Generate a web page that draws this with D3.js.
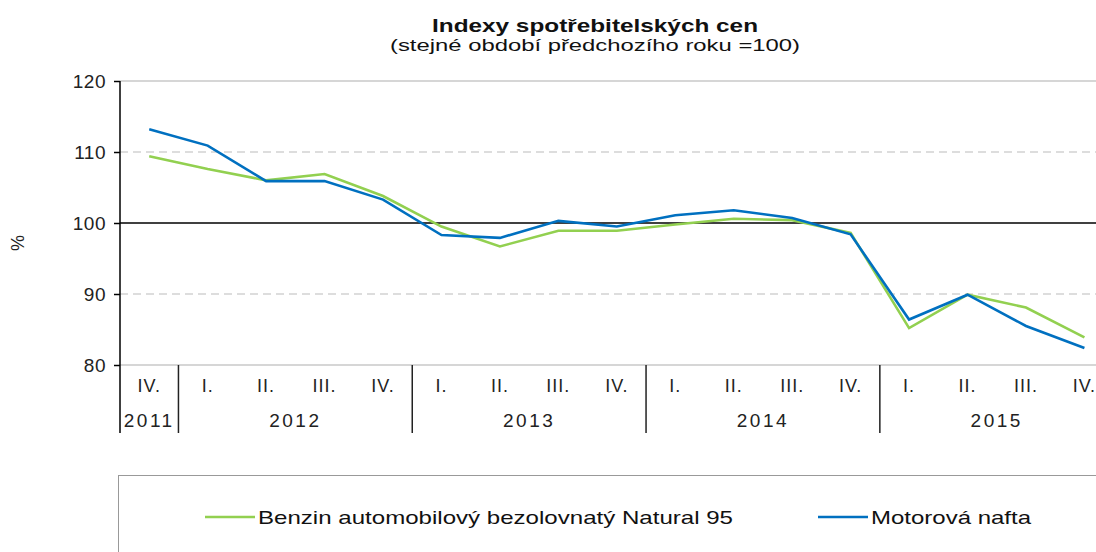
<!DOCTYPE html>
<html>
<head>
<meta charset="utf-8">
<script src="https://cdn.jsdelivr.net/npm/d3@7"></script>
<style>
  body { margin: 0; background: #fff; }
  svg { display: block; font-family: "Liberation Sans", Arial, sans-serif; }
</style>
</head>
<body>
<div id="chart"></div>
<script>
// quarters from 2011 Q4 to 2015 Q4
const quarters = ['IV.', 'I.', 'II.', 'III.', 'IV.', 'I.', 'II.', 'III.', 'IV.',
  'I.', 'II.', 'III.', 'IV.', 'I.', 'II.', 'III.', 'IV.'];
const years = [
  {label: '2011', from: 0, to: 1},
  {label: '2012', from: 1, to: 5},
  {label: '2013', from: 5, to: 9},
  {label: '2014', from: 9, to: 13},
  {label: '2015', from: 13, to: 17}
];
const benzin = [109.4, 107.6, 106.0, 106.9, 103.8, 99.5, 96.7, 98.9, 98.9,
  99.8, 100.6, 100.4, 98.6, 85.2, 89.9, 88.1, 83.9];
const nafta = [113.2, 110.9, 105.9, 105.9, 103.3, 98.3, 97.9, 100.3, 99.5,
  101.1, 101.8, 100.7, 98.4, 86.4, 89.9, 85.5, 82.4];
const yTicks = [80, 90, 100, 110, 120];

const W = 1096, H = 552;
const plotLeft = 120, plotTop = 81, plotBottom = 365;

const svg = d3.select('#chart').append('svg')
  .attr('width', W)
  .attr('height', H);

// title
svg.append('text')
  .attr('x', 595).attr('y', 32)
  .attr('text-anchor', 'middle')
  .attr('font-weight', 'bold')
  .attr('font-size', 18)
  .attr('fill', '#111')
  .attr('font-family', '"Liberation Sans Narrow", "Liberation Sans", Arial, sans-serif')
  .attr('textLength', 326).attr('lengthAdjust', 'spacingAndGlyphs')
  .text('Indexy spotřebitelských  cen');
svg.append('text')
  .attr('x', 595).attr('y', 51)
  .attr('text-anchor', 'middle')
  .attr('font-size', 16)
  .attr('fill', '#111')
  .attr('textLength', 410).attr('lengthAdjust', 'spacingAndGlyphs')
  .text('(stejné období předchozího roku =100)');

const x = d3.scaleBand()
  .domain(d3.range(quarters.length))
  .range([plotLeft, plotLeft + quarters.length * 58.45]);
const y = d3.scaleLinear()
  .domain([80, 120])
  .range([plotBottom, plotTop]);

// gridlines
const grid = svg.append('g');
yTicks.forEach(t => {
  const gl = grid.append('line')
    .attr('x1', plotLeft).attr('x2', W)
    .attr('y1', y(t)).attr('y2', y(t));
  if (t === 100) {
    gl.attr('stroke', '#000').attr('stroke-width', 1.5);
  } else if (t === 90 || t === 110) {
    gl.attr('stroke', '#bbb').attr('stroke-width', 1.2).attr('stroke-dasharray', '8,5');
  } else {
    gl.attr('stroke', '#c8c8c8').attr('stroke-width', 1.5);
  }
});

// y axis
const yAxis = svg.append('g')
  .attr('transform', `translate(${plotLeft},0)`)
  .call(d3.axisLeft(y).tickValues(yTicks).tickSize(6).tickPadding(8));
yAxis.select('.domain').remove();
yAxis.selectAll('.tick line').attr('stroke', '#000').attr('stroke-width', 1.5);
yAxis.selectAll('.tick text')
  .attr('font-size', 19)
  .attr('letter-spacing', 0.5)
  .attr('fill', '#222')
  .attr('font-family', '"Liberation Sans", Arial, sans-serif');
svg.append('line')
  .attr('x1', plotLeft).attr('x2', plotLeft)
  .attr('y1', plotTop).attr('y2', 433)
  .attr('stroke', '#000').attr('stroke-width', 1.5);

svg.append('text')
  .attr('transform', 'translate(24,243) rotate(-90)')
  .attr('text-anchor', 'middle')
  .attr('font-size', 18)
  .attr('fill', '#222')
  .text('%');

// category axis
svg.selectAll('.q')
  .data(quarters)
  .join('text')
  .attr('class', 'q')
  .attr('x', (d, i) => x(i) + x.bandwidth() / 2)
  .attr('y', 392)
  .attr('text-anchor', 'middle')
  .attr('font-size', 18)
  .attr('letter-spacing', 1)
  .attr('fill', '#222')
  .text(d => d);

svg.selectAll('.yr')
  .data(years)
  .join('text')
  .attr('class', 'yr')
  .attr('x', d => (x(d.from) + x(d.to - 1) + x.bandwidth()) / 2)
  .attr('y', 427)
  .attr('text-anchor', 'middle')
  .attr('font-size', 19)
  .attr('letter-spacing', 2.5)
  .attr('fill', '#222')
  .text(d => d.label);

svg.selectAll('.sep')
  .data(years.slice(0, -1))
  .join('line')
  .attr('class', 'sep')
  .attr('x1', d => x(d.to)).attr('x2', d => x(d.to))
  .attr('y1', plotBottom).attr('y2', 433)
  .attr('stroke', '#222').attr('stroke-width', 1.5);

// lines
const line = d3.line()
  .x((d, i) => x(i) + x.bandwidth() / 2)
  .y(d => y(d));

svg.append('path')
  .datum(benzin)
  .attr('fill', 'none')
  .attr('stroke', '#92D050')
  .attr('stroke-width', 2.6)
  .attr('d', line);
svg.append('path')
  .datum(nafta)
  .attr('fill', 'none')
  .attr('stroke', '#0070C0')
  .attr('stroke-width', 2.6)
  .attr('d', line);

// legend
svg.append('rect')
  .attr('x', 118.5).attr('y', 475.5)
  .attr('width', 1000).attr('height', 100)
  .attr('fill', 'none')
  .attr('stroke', '#999').attr('stroke-width', 1);

const legendItems = [
  {name: 'Benzin automobilový bezolovnatý Natural 95', color: '#92D050', x: 205, len: 475},
  {name: 'Motorová nafta', color: '#0070C0', x: 818, len: 160}
];
const lg = svg.selectAll('.lg')
  .data(legendItems)
  .join('g')
  .attr('class', 'lg')
  .attr('transform', d => `translate(${d.x},517)`);
lg.append('line')
  .attr('x1', 0).attr('x2', 50)
  .attr('stroke', d => d.color).attr('stroke-width', 2.6);
lg.append('text')
  .attr('x', 53).attr('y', 7)
  .attr('font-size', 19)
  .attr('fill', '#111')
  .attr('textLength', d => d.len).attr('lengthAdjust', 'spacingAndGlyphs')
  .text(d => d.name);
</script>
</body>
</html>
